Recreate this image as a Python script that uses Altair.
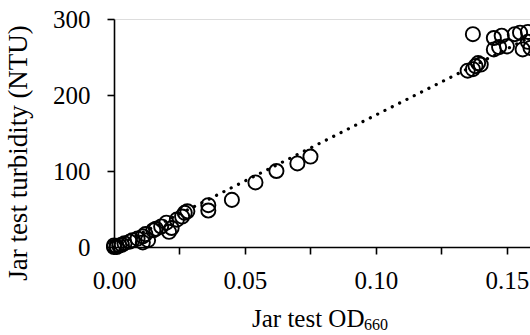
import altair as alt
import pandas as pd

# Observed jar-test points (OD660 vs turbidity NTU)
od660 = [0.000, 0.001, 0.001, 0.002, 0.000, 0.003, 0.004, 0.006, 0.007, 0.009,
         0.011, 0.011, 0.012, 0.013, 0.015, 0.016, 0.018, 0.020, 0.021, 0.022,
         0.024, 0.026, 0.027, 0.028, 0.036, 0.036, 0.045, 0.054, 0.062, 0.070,
         0.075, 0.135, 0.137, 0.138, 0.139, 0.140, 0.137, 0.145, 0.145, 0.147,
         0.148, 0.150, 0.153, 0.155, 0.156, 0.158, 0.159, 0.158]
ntu = [0, 1, 0, 2, 2, 3, 5, 7, 9, 11,
       6, 14, 17, 9, 22, 24, 27, 32, 20, 25,
       36, 40, 45, 47, 55, 48, 62, 85, 100, 110,
       119, 232, 234, 238, 242, 240, 280, 260, 275, 263,
       278, 264, 280, 282, 260, 283, 262, 270]

# Linear fit line end points
fit_x = [0.0, 0.16]
fit_y = [0.0, 278.0]

x_ticks = [0.0, 0.025, 0.05, 0.075, 0.10, 0.125, 0.15]
y_ticks = [0, 50, 100, 150, 200, 250, 300]

pts = pd.DataFrame({"od": od660, "ntu": ntu})
fit = pd.DataFrame({"od": fit_x, "ntu": fit_y})

FONT = "Liberation Serif"
FS = 25

xscale = alt.Scale(domain=[0, 0.1588], nice=False, zero=False)
yscale = alt.Scale(domain=[0, 300], nice=False)

xaxis = alt.Axis(values=x_ticks, title=None, grid=False,
                 labelExpr="round(datum.value*40) % 2 == 0 ? format(datum.value, '.2f') : ''",
                 domainColor="black", domainWidth=1.6, tickColor="black", tickWidth=1.6,
                 tickSize=7, labelFont=FONT, labelFontSize=FS, labelColor="black",
                 labelPadding=14, labelFlush=False, labelOverlap=False)
yaxis = alt.Axis(values=y_ticks, title="Jar test turbidity (NTU)", grid=False,
                 labelExpr="datum.value % 100 == 0 ? datum.value : ''",
                 domainColor="black", domainWidth=1.6, tickColor="black", tickWidth=1.6,
                 tickSize=7, labelFont=FONT, labelFontSize=FS, labelColor="black",
                 labelPadding=17, labelFlush=False, labelOverlap=False,
                 titleFont=FONT, titleFontSize=27, titleFontWeight="normal",
                 titleColor="black", titlePadding=20, titleY=133.5)

points = alt.Chart(pts).mark_point(
    shape="circle", size=200, filled=False, color="black", strokeWidth=1.9,
    opacity=1, clip=False
).encode(
    x=alt.X("od:Q", scale=xscale, axis=xaxis),
    y=alt.Y("ntu:Q", scale=yscale, axis=yaxis),
)

line = alt.Chart(fit).mark_line(
    color="black", strokeWidth=3.2, strokeCap="round", strokeDash=[0.1, 8.1], clip=False
).encode(
    x=alt.X("od:Q", scale=xscale),
    y=alt.Y("ntu:Q", scale=yscale),
)

title_main = alt.Chart(pd.DataFrame({"t": ["Jar test OD"]})).mark_text(
    font=FONT, fontSize=FS, align="left", baseline="alphabetic", color="black"
).encode(text="t:N", x=alt.value(138), y=alt.value(308))

title_sub = alt.Chart(pd.DataFrame({"t": ["660"]})).mark_text(
    font=FONT, fontSize=16, align="left", baseline="alphabetic", color="black"
).encode(text="t:N", x=alt.value(250), y=alt.value(311))

chart = alt.layer(points, line, title_main, title_sub).properties(
    width=416, height=228,
    autosize=alt.AutoSizeParams(type="none"),
    padding={"left": 114, "top": 19, "right": 0, "bottom": 88},
).configure_view(stroke=None).configure(background="white")

chart.save("out.html", embed_options={"renderer": "svg", "actions": False})
